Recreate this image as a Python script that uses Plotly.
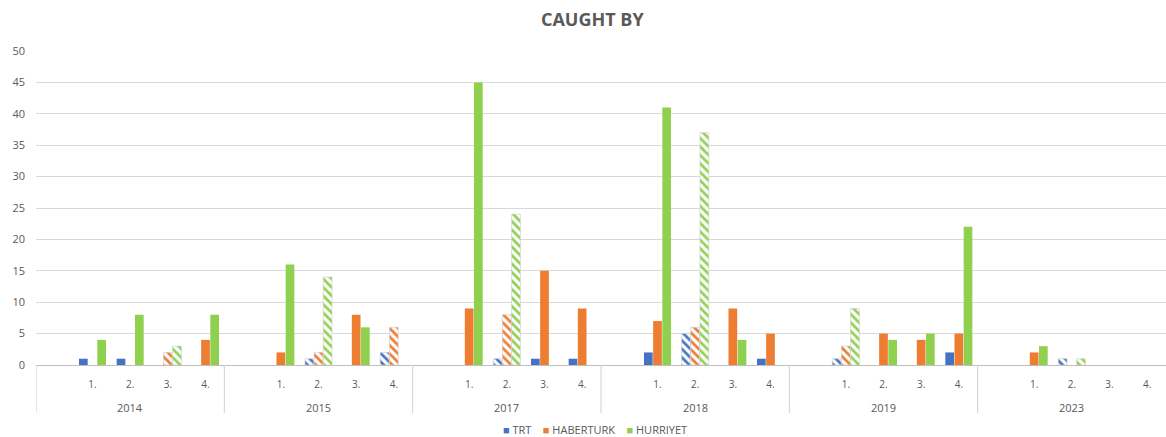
import plotly.graph_objects as go

# Years and quarter slots (each year starts with an empty spacer slot)
years = ["2014", "2015", "2017", "2018", "2019", "2023"]
quarters = ["", "1.", "2.", "3.", "4."]

# Counts per year, quarters 1-4
trt = {
    "2014": [1, 1, 0, 0],
    "2015": [0, 1, 0, 2],
    "2017": [0, 1, 1, 1],
    "2018": [2, 5, 0, 1],
    "2019": [1, 0, 0, 2],
    "2023": [0, 1, 0, 0],
}
haberturk = {
    "2014": [0, 0, 2, 4],
    "2015": [2, 2, 8, 6],
    "2017": [9, 8, 15, 9],
    "2018": [7, 6, 9, 5],
    "2019": [3, 5, 4, 5],
    "2023": [2, 0, 0, 0],
}
hurriyet = {
    "2014": [4, 8, 3, 8],
    "2015": [16, 14, 6, 0],
    "2017": [45, 24, 0, 0],
    "2018": [41, 37, 4, 0],
    "2019": [9, 4, 5, 22],
    "2023": [3, 1, 0, 0],
}
# Quarters drawn with a striped fill
striped = {
    "2014": [3],
    "2015": [2, 4],
    "2017": [2],
    "2018": [2],
    "2019": [1],
    "2023": [2],
}

series = [
    ("TRT", trt, "#4472C4"),
    ("HABERTURK", haberturk, "#ED7D31"),
    ("HURRIYET", hurriyet, "#8FD14F"),
]

n_slots = len(quarters)
slot_x = list(range(len(years) * n_slots))
tick_text = [q for _ in years for q in quarters]

fig = go.Figure()
for name, data, color in series:
    vals, shapes, lw = [], [], []
    for y in years:
        vals.append(None)
        shapes.append("")
        lw.append(0)
        for i, v in enumerate(data[y]):
            vals.append(v)
            hatch = (i + 1) in striped[y]
            shapes.append("\\" if hatch else "")
            lw.append(0.6 if (hatch and v > 0) else 0)
    fig.add_trace(go.Bar(
        name=name,
        x=slot_x,
        y=vals,
        showlegend=False,
        marker=dict(
            color=color,
            line=dict(color="#c8c8c8", width=lw),
            pattern=dict(shape=shapes, fillmode="replace", bgcolor="white",
                         fgcolor=color, size=6, solidity=0.45),
        ),
    ))

# Year labels and group dividers under the category axis
for g, y in enumerate(years):
    fig.add_annotation(x=g * n_slots + (n_slots - 1) / 2, y=-0.134, xref="x", yref="paper",
                       text=y, showarrow=False, yanchor="middle",
                       font=dict(size=11, color="#595959"))
    fig.add_shape(type="line", xref="x", yref="paper",
                  x0=g * n_slots - 0.5, x1=g * n_slots - 0.5, y0=0, y1=-0.153,
                  line=dict(color="#d0d0d0", width=1))

# Legend row
legend_html = "&nbsp;&nbsp;&nbsp;&nbsp;".join(
    f"<span style='color:{c}'>■</span>&nbsp;{n}" for n, _, c in series
)
fig.add_annotation(x=0.495, y=-0.204, xref="paper", yref="paper", text=legend_html,
                   showarrow=False, xanchor="center", yanchor="middle",
                   font=dict(size=11, color="#595959"))

fig.update_layout(
    template="none",
    width=1166, height=437,
    margin=dict(l=36, r=0, t=51, b=72, autoexpand=False),
    paper_bgcolor="white", plot_bgcolor="white",
    title=dict(text="<b>CAUGHT BY</b>", x=0.508, xanchor="center", y=0.955,
               yanchor="middle",
               font=dict(family="Open Sans, Arial, sans-serif", size=18, color="#595959")),
    barmode="group", bargap=0.27, bargroupgap=0.05,
    font=dict(family="Open Sans, Arial, sans-serif", color="#595959"),
    showlegend=False,
)
fig.update_yaxes(
    range=[0, 50], dtick=5, showgrid=True, gridcolor="#d9d9d9", gridwidth=1,
    zeroline=False, showline=False, ticks="", automargin=False,
    tickfont=dict(size=11, color="#595959"), ticklabelstandoff=10,
)
fig.update_xaxes(
    range=[-0.5, len(slot_x) - 0.5], tickmode="array", tickvals=slot_x, ticktext=tick_text,
    showline=True, linecolor="#bfbfbf", linewidth=1, ticks="", showgrid=False,
    zeroline=False, automargin=False, ticklabelstandoff=10,
    tickfont=dict(size=10, color="#595959"),
)

fig.write_html("out.html")
